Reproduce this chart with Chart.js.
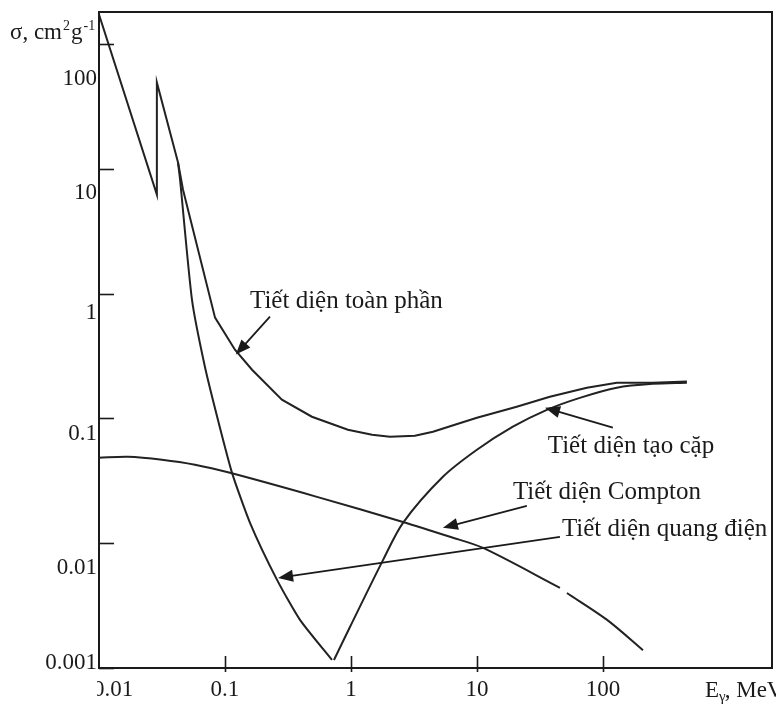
<!DOCTYPE html>
<html>
<head>
<meta charset="utf-8">
<script src="https://cdn.jsdelivr.net/npm/chart.js@4.4.1/dist/chart.umd.min.js"></script>
<style>
  html, body { margin: 0; padding: 0; background: #ffffff; }
  canvas { display: block; }
</style>
</head>
<body>
<canvas id="c" width="776" height="705"></canvas>
<script>
// Photon energy E (MeV) against mass cross-section sigma (cm^2/g)

// Total cross-section (with the absorption edge at low energy)
const totalE     = [0.01, 0.0288, 0.0288, 0.0424, 0.0464, 0.0834, 0.120, 0.164, 0.283, 0.490, 0.946, 1.47, 2.04, 3.22, 4.48, 6.68, 10, 20.7, 37.9, 74.6, 129, 249, 464];
const totalSigma = [172, 6.2, 49, 11.2, 6.81, 0.641, 0.355, 0.245, 0.141, 0.103, 0.0811, 0.0738, 0.0711, 0.0725, 0.0782, 0.0889, 0.101, 0.124, 0.149, 0.176, 0.193, 0.193, 0.197];

// Photoelectric cross-section
const photoE     = [0.0424, 0.0440, 0.0547, 0.0693, 0.0879, 0.1138, 0.158, 0.259, 0.394, 0.707];
const photoSigma = [11.2, 8.19, 0.893, 0.259, 0.0975, 0.0366, 0.01456, 0.00508, 0.00243, 0.00116];

// Pair-production cross-section
const pairE      = [0.733, 0.982, 1.80, 2.59, 5.37, 10, 19.3, 35.9, 65.6, 129, 249, 464];
const pairSigma  = [0.00116, 0.00213, 0.00735, 0.01456, 0.0340, 0.0560, 0.0857, 0.117, 0.146, 0.176, 0.189, 0.193];

// Compton cross-section (the line has a short break near 50 MeV)
const comptonE     = [0.01, 0.0170, 0.0316, 0.0578, 0.1096, 0.537, 2.59, 6.11, 11.2, 45.6, 48, 51.8, 108, 208];
const comptonSigma = [0.0483, 0.0492, 0.0466, 0.0425, 0.0366, 0.0235, 0.0148, 0.01125, 0.00916, 0.00439, null, 0.00399, 0.00243, 0.00139];

// Axis ticks
const xTickValues = [0.01, 0.1, 1, 10, 100];
const xTickLabels = ['0.01', '0.1', '1', '10', '100'];
const yTickValues = [0.001, 0.01, 0.1, 1, 10, 100];
const yTickLabels = ['0.001', '0.01', '0.1', '1', '10', '100'];

// Curve names
const seriesNames = ['Tiết diện toàn phần', 'Tiết diện quang điện', 'Tiết diện tạo cặp', 'Tiết diện Compton'];

function toPoints(xs, ys) {
  return xs.map((x, i) => ({ x: x, y: ys[i] }));
}

// Callout labels with arrows, anchored in data units (energy, sigma)
const callouts = [
  { text: 'Tiết diện toàn phần',  at: [0.158, 0.861],  from: [0.2276, 0.653], to: [0.122, 0.324] },
  { text: 'Tiết diện tạo cặp',    at: [36.5, 0.0592],  from: [120, 0.0842],   to: [34.7, 0.1216] },
  { text: 'Tiết diện Compton',    at: [19.3, 0.0253],  from: [24.9, 0.0199],  to: [5.37, 0.01327] },
  { text: 'Tiết diện quang điện', at: [47.3, 0.0128],  from: [45.6, 0.01125], to: [0.264, 0.00527] }
];

const INK = '#1a1a1a';
const SERIF = '"Liberation Serif", "Times New Roman", serif';

const framePlugin = {
  id: 'frameAndLabels',
  afterDatasetsDraw(chart, args, opts) {
    const ctx = chart.ctx;
    const ca = chart.chartArea;
    const xs = chart.scales.x;
    const ys = chart.scales.y;
    ctx.save();

    // frame
    ctx.strokeStyle = INK;
    ctx.lineWidth = 2;
    ctx.strokeRect(ca.left, ca.top, ca.right - ca.left, ca.bottom - ca.top);

    // inner tick marks
    ctx.lineWidth = 1.6;
    yTickValues.forEach(v => {
      const py = Math.round(ys.getPixelForValue(v)) + 0.5;
      ctx.beginPath();
      ctx.moveTo(ca.left, py);
      ctx.lineTo(ca.left + 15, py);
      ctx.stroke();
    });
    xTickValues.forEach((v, i) => {
      if (i === 0) return;
      const px = Math.round(xs.getPixelForValue(v)) + 0.5;
      ctx.beginPath();
      ctx.moveTo(px, ca.bottom - 12);
      ctx.lineTo(px, ca.bottom + 4);
      ctx.stroke();
    });

    // tick labels
    ctx.fillStyle = INK;
    ctx.font = '23px ' + SERIF;
    ctx.textAlign = 'right';
    ctx.textBaseline = 'middle';
    yTickValues.forEach((v, i) => {
      const py = ys.getPixelForValue(v) + opts.yLabelShift[i];
      ctx.fillText(yTickLabels[i], ca.left - 2, py);
    });

    ctx.textAlign = 'center';
    xTickValues.forEach((v, i) => {
      const px = xs.getPixelForValue(v) + opts.xLabelShift[i];
      ctx.save();
      ctx.beginPath();
      ctx.rect(ca.left - 2, ca.bottom + 5, chart.width, 40);
      ctx.clip();
      ctx.fillText(xTickLabels[i], px, ca.bottom + 22);
      ctx.restore();
    });

    // axis titles
    ctx.textAlign = 'left';
    ctx.textBaseline = 'alphabetic';
    let tx = 10;
    const tb = 39;
    ctx.font = '23px ' + SERIF;
    ctx.fillText('σ, cm', tx, tb); tx += ctx.measureText('σ, cm').width + 1;
    ctx.font = '14px ' + SERIF;
    ctx.fillText('2', tx, tb - 9); tx += ctx.measureText('2').width + 1;
    ctx.font = '23px ' + SERIF;
    ctx.fillText('g', tx, tb); tx += ctx.measureText('g').width + 1;
    ctx.font = '14px ' + SERIF;
    ctx.fillText('-1', tx, tb - 9);

    let ex = 705;
    const eb = ca.bottom + 29;
    ctx.font = '23px ' + SERIF;
    ctx.fillText('E', ex, eb); ex += ctx.measureText('E').width;
    ctx.font = '15px ' + SERIF;
    ctx.fillText('γ', ex, eb + 4); ex += ctx.measureText('γ').width - 1;
    ctx.font = '23px ' + SERIF;
    ctx.fillText(', MeV', ex, eb);

    // callouts
    ctx.font = '25px ' + SERIF;
    ctx.textBaseline = 'middle';
    ctx.lineWidth = 1.8;
    callouts.forEach(c => {
      const lx = xs.getPixelForValue(c.at[0]);
      const ly = ys.getPixelForValue(c.at[1]);
      ctx.fillText(c.text, lx, ly);

      const x1 = xs.getPixelForValue(c.from[0]);
      const y1 = ys.getPixelForValue(c.from[1]);
      const x2 = xs.getPixelForValue(c.to[0]);
      const y2 = ys.getPixelForValue(c.to[1]);
      const ang = Math.atan2(y2 - y1, x2 - x1);
      const head = 15, half = 6;
      ctx.beginPath();
      ctx.moveTo(x1, y1);
      ctx.lineTo(x2 - Math.cos(ang) * head * 0.8, y2 - Math.sin(ang) * head * 0.8);
      ctx.stroke();
      ctx.beginPath();
      ctx.moveTo(x2, y2);
      ctx.lineTo(x2 - Math.cos(ang) * head + Math.sin(ang) * half, y2 - Math.sin(ang) * head - Math.cos(ang) * half);
      ctx.lineTo(x2 - Math.cos(ang) * head - Math.sin(ang) * half, y2 - Math.sin(ang) * head + Math.cos(ang) * half);
      ctx.closePath();
      ctx.fill();
    });

    ctx.restore();
  }
};

function curve(label, xs, ys, tension) {
  return {
    label: label,
    data: toPoints(xs, ys),
    showLine: true,
    borderColor: '#222222',
    borderWidth: 2,
    pointRadius: 0,
    pointHoverRadius: 0,
    tension: tension,
    spanGaps: false,
    fill: false
  };
}

new Chart(document.getElementById('c'), {
  type: 'scatter',
  data: {
    datasets: [
      curve(seriesNames[0], totalE, totalSigma, 0),
      curve(seriesNames[1], photoE, photoSigma, 0.2),
      curve(seriesNames[2], pairE, pairSigma, 0.3),
      curve(seriesNames[3], comptonE, comptonSigma, 0.3)
    ]
  },
  options: {
    responsive: false,
    devicePixelRatio: 1,
    animation: false,
    layout: { padding: { left: 99, right: 4, top: 12, bottom: 37 } },
    plugins: {
      legend: { display: false },
      tooltip: { enabled: false },
      frameAndLabels: {
        yLabelShift: [-5, 25, 16, 19, 24, 35],
        xLabelShift: [14, 0, 0, 0, 0]
      }
    },
    scales: {
      x: { type: 'logarithmic', display: false, min: 0.01, max: 2200 },
      y: { type: 'logarithmic', display: false, min: 0.001, max: 180 }
    }
  },
  plugins: [framePlugin]
});
</script>
</body>
</html>
